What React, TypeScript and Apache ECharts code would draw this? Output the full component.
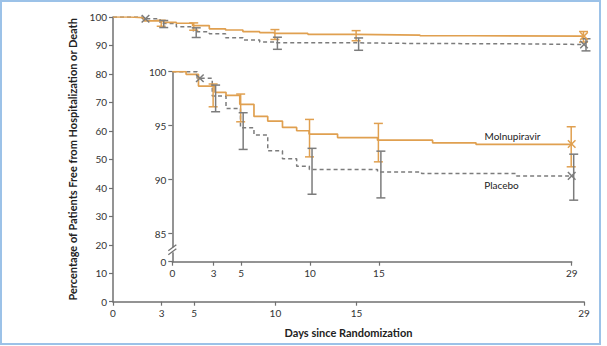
import React, { useEffect, useRef } from "react";
import * as echarts from "echarts";

// Kaplan-Meier steps: [day, percent free from hospitalization or death]
const molnupiravirSteps: [number, number][] = [
  [0, 100], [1.0, 99.76], [1.9, 98.67], [3.1, 98.09], [3.9, 97.8], [4.9, 96.98],
  [5.93, 95.86], [6.93, 95.43], [8.0, 94.84], [9.03, 94.53], [9.93, 94.22],
  [12.0, 93.9], [14.9, 93.66], [18.9, 93.41], [22.05, 93.27], [29, 93.27],
];
const placeboSteps: [number, number][] = [
  [0, 100], [1.8, 99.39], [2.9, 97.75], [3.9, 96.6], [4.95, 94.8], [5.93, 94.13],
  [6.93, 92.67], [8.0, 91.93], [9.03, 91.25], [9.95, 90.95], [14.9, 90.72],
  [18.1, 90.57], [25.0, 90.35], [29, 90.35],
];
// 95% CI error bars: [day, low, high]
const molnupiravirCI: [number, number, number][] = [
  [3, 96.75, 98.86], [5, 95.36, 97.93], [10, 92.11, 95.58], [15, 91.65, 95.21], [29, 91.19, 94.9],
];
const placeboCI: [number, number, number][] = [
  [3, 96.29, 98.76], [5, 92.8, 96.2], [10, 88.65, 92.9], [15, 88.31, 92.64], [29, 88.1, 92.36],
];
// censor marks (X)
const molnupiravirCensor: [number, number][] = [[29, 93.3]];
const placeboCensor: [number, number][] = [[2.0, 99.39], [29, 90.35]];

const xTicks = [0, 3, 5, 10, 15, 29];
const mainYMin = 0;
const mainYMax = 100;
const insetYMin = 82.4; // shown as "0" (broken axis)
const insetYTicks = [insetYMin, 85, 90, 95, 100];

const ORANGE = "#E0A050";
const GRAY = "#7C7C7C";
const AXIS = "#707070";
const FONT = "Lato";

export default function App() {
  const ref = useRef<HTMLDivElement>(null);
  useEffect(() => {
    const chart = echarts.init(ref.current!, null, { renderer: "svg" });

    const axisLine = { show: true, onZero: false, lineStyle: { color: AXIS, width: 1.5 } };
    const axisTickBase = { show: true, length: 4, lineStyle: { color: AXIS, width: 1.2 } };
    const labelBase = { color: "#333", fontSize: 10, fontFamily: FONT };

    const errRender = (color: string, dx: number) => (params: any, api: any) => {
      const x = api.value(0), lo = api.value(1), hi = api.value(2);
      const p1 = api.coord([x, hi]);
      const p2 = api.coord([x, lo]);
      const cx = p1[0] + dx;
      const w = 4.5;
      const st = { stroke: color, lineWidth: 1.5 };
      return {
        type: "group",
        children: [
          { type: "line", shape: { x1: cx, y1: p1[1], x2: cx, y2: p2[1] }, style: st },
          { type: "line", shape: { x1: cx - w, y1: p1[1], x2: cx + w, y2: p1[1] }, style: st },
          { type: "line", shape: { x1: cx - w, y1: p2[1], x2: cx + w, y2: p2[1] }, style: st },
        ],
      };
    };
    const crossRender = (color: string) => (params: any, api: any) => {
      const p = api.coord([api.value(0), api.value(1)]);
      const s = 3.8;
      const st = { stroke: color, lineWidth: 1.5 };
      return {
        type: "group",
        children: [
          { type: "line", shape: { x1: p[0] - s, y1: p[1] - s, x2: p[0] + s, y2: p[1] + s }, style: st },
          { type: "line", shape: { x1: p[0] - s, y1: p[1] + s, x2: p[0] + s, y2: p[1] - s }, style: st },
        ],
      };
    };

    const seriesFor = (idx: number) => [
      {
        type: "line", xAxisIndex: idx, yAxisIndex: idx, step: "end", showSymbol: false,
        data: placeboSteps, lineStyle: { color: GRAY, width: 1.5, type: [4, 3] }, z: 2,
      },
      {
        type: "line", xAxisIndex: idx, yAxisIndex: idx, step: "end", showSymbol: false,
        data: molnupiravirSteps, lineStyle: { color: ORANGE, width: 1.7 }, z: 3,
      },
      {
        type: "custom", xAxisIndex: idx, yAxisIndex: idx, data: molnupiravirCI,
        encode: { x: 0, y: [1, 2] }, renderItem: errRender(ORANGE, -0.5), z: 4,
      },
      {
        type: "custom", xAxisIndex: idx, yAxisIndex: idx, data: placeboCI,
        encode: { x: 0, y: [1, 2] }, renderItem: errRender(GRAY, 2), z: 4,
      },
      {
        type: "custom", xAxisIndex: idx, yAxisIndex: idx, data: molnupiravirCensor,
        encode: { x: 0, y: 1 }, renderItem: crossRender(ORANGE), z: 5,
      },
      {
        type: "custom", xAxisIndex: idx, yAxisIndex: idx, data: placeboCensor,
        encode: { x: 0, y: 1 }, renderItem: crossRender(GRAY), z: 5,
      },
    ];

    const option: any = {
      animation: false,
      backgroundColor: "#ffffff",
      grid: [
        { left: 113, right: 23, top: 17, bottom: 44.3 },
        { left: 172.3, right: 35.3, top: 71.7, bottom: 84.3 },
      ],
      xAxis: [
        {
          gridIndex: 0, type: "value", min: 0, max: 29,
          axisLine, axisTick: { ...axisTickBase, customValues: xTicks },
          axisLabel: { ...labelBase, customValues: xTicks, margin: 6 },
          splitLine: { show: false },
          name: "Days since Randomization", nameLocation: "middle", nameGap: 25,
          nameTextStyle: { fontWeight: "bold", fontSize: 11, color: "#222", fontFamily: FONT },
        },
        {
          gridIndex: 1, type: "value", min: 0, max: 29,
          axisLine, axisTick: { ...axisTickBase, customValues: xTicks },
          axisLabel: { ...labelBase, customValues: xTicks, margin: 6 },
          splitLine: { show: false },
        },
      ],
      yAxis: [
        {
          gridIndex: 0, type: "value", min: mainYMin, max: mainYMax, interval: 10,
          axisLine, axisTick: axisTickBase,
          axisLabel: { ...labelBase, margin: 6 },
          splitLine: { show: false },
          name: "Percentage of Patients Free from Hospitalization or Death",
          nameLocation: "middle", nameGap: 35,
          nameTextStyle: { fontWeight: "bold", fontSize: 11, color: "#222", fontFamily: FONT },
        },
        {
          gridIndex: 1, type: "value", min: insetYMin, max: 100,
          axisLine, axisTick: { ...axisTickBase, customValues: insetYTicks },
          axisLabel: {
            ...labelBase, margin: 6, customValues: insetYTicks,
            formatter: (v: number) => (v < 84 ? "" : String(v)),
          },
          splitLine: { show: false },
        },
      ],
      series: [...seriesFor(0), ...seriesFor(1)],
    };
    chart.setOption(option);

    const pix = (p: number[]) =>
      chart.convertToPixel({ xAxisIndex: 1, yAxisIndex: 1 } as any, p) as number[];
    const br = pix([0, 83.5]);
    const zero = pix([0, insetYMin]);
    const mol = pix([24.7, 94.06]);
    const pla = pix([23.9, 89.49]);
    const bx = br[0], by = br[1];
    chart.setOption({
      graphic: [
        {
          type: "rect", shape: { x: 1, y: 1, width: 599, height: 343 },
          style: { fill: "none", stroke: "#9CC2E8", lineWidth: 2 }, z: 100,
        },
        { type: "rect", shape: { x: bx - 3, y: by - 2.5, width: 6, height: 5 }, style: { fill: "#fff" }, z: 50 },
        { type: "line", shape: { x1: bx - 4, y1: by + 1, x2: bx + 4, y2: by - 5 }, style: { stroke: AXIS, lineWidth: 1.2 }, z: 51 },
        { type: "line", shape: { x1: bx - 4, y1: by + 5, x2: bx + 4, y2: by - 1 }, style: { stroke: AXIS, lineWidth: 1.2 }, z: 51 },
        {
          type: "text", x: zero[0] - 6, y: zero[1],
          style: { text: "0", fill: "#333", fontSize: 10, fontFamily: FONT, align: "right", verticalAlign: "middle" },
          z: 60,
        },
        {
          type: "text", x: mol[0], y: mol[1],
          style: { text: "Molnupiravir", fill: "#222", fontSize: 10, fontFamily: FONT, align: "center", verticalAlign: "middle" },
          z: 60,
        },
        {
          type: "text", x: pla[0], y: pla[1],
          style: { text: "Placebo", fill: "#222", fontSize: 10, fontFamily: FONT, align: "center", verticalAlign: "middle" },
          z: 60,
        },
      ],
    });
    return () => chart.dispose();
  }, []);
  return (
    <div
      ref={ref}
      style={{ position: "absolute", left: 0, top: 0, width: 607, height: 346, background: "#fff" }}
    />
  );
}
